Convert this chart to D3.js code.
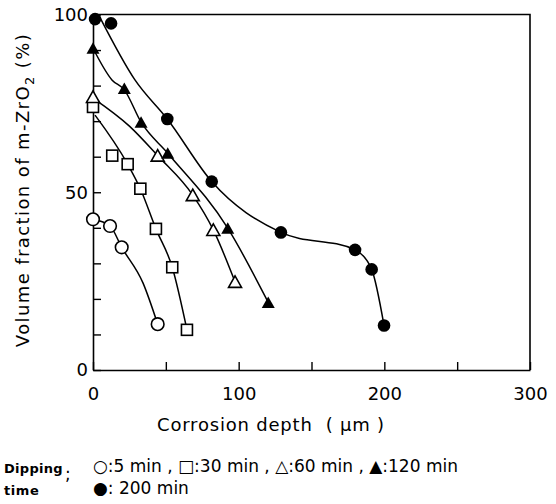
<!DOCTYPE html>
<html>
<head>
<meta charset="utf-8">
<script src="https://cdn.jsdelivr.net/npm/d3@7"></script>
<style>
  body { margin: 0; background: #fff; }
  svg text { font-family: "DejaVu Sans", sans-serif; fill: #000; }
</style>
</head>
<body>
<svg id="chart" width="556" height="504"></svg>
<script>
// Measured points, corrosion depth (um) vs volume fraction of m-ZrO2 (%)
const pts5 = [[0, 42.4], [11.7, 40.5], [19.7, 34.5], [44.4, 12.9]];
const pts30 = [[0, 74], [13.2, 60.3], [23.8, 57.9], [32.5, 51], [43.2, 39.7], [54.4, 28.9], [64.5, 11.3]];
const pts60 = [[0, 76.8], [44.4, 60.3], [68.5, 49.2], [82.6, 39.4], [97.5, 24.8]];
const pts120 = [[0, 90.5], [21.5, 79.2], [33, 69.7], [51.3, 61], [92.5, 39.9], [120.3, 19]];
const pts200 = [[1.4, 98.7], [12.4, 97.5], [51, 70.6], [81.5, 53], [129, 38.7], [179.9, 33.8], [191.3, 28.3], [199.8, 12.5]];

// Hand-drawn fit curves
const fit5 = [[0, 42.4], [11.7, 40.5], [19.7, 34.5], [34.3, 24.5], [44.4, 12.9]];
const fit30 = [[1.4, 71.7], [23.8, 57.9], [32.5, 51], [43.2, 39.7], [54.4, 28.9], [64.5, 11.3]];
const fit60 = [[0, 76.5], [25, 68.6], [44.4, 60.3], [68.5, 49.2], [82.6, 39.4], [97.5, 24.8]];
const fit120 = [[0, 90.5], [13, 81.6], [21.5, 78.8], [33, 69.7], [51.3, 61], [92.5, 39.9], [120.3, 19]];
const fit200 = [[5, 99], [28.8, 81.6], [51, 70.6], [81.5, 53], [129, 38.7], [179.9, 33.8], [191.3, 28.3], [199.8, 12.5]];

const xTicks = [0, 50, 100, 150, 200, 250, 300];
const xLabels = [0, 100, 200, 300];
const yTicks = [0, 10, 20, 30, 40, 50, 60, 70, 80, 90, 100];
const yLabels = [0, 50, 100];

const svg = d3.select("#chart");
const x = d3.scaleLinear().domain([0, 300]).range([93, 530]);
const y = d3.scaleLinear().domain([0, 100]).range([370, 14.5]);

// Frame: top and right edges
svg.append("path")
    .attr("d", `M${x(0)},${y(100)}H${x(300)}V${y(0)}`)
    .attr("fill", "none")
    .attr("stroke", "#000")
    .attr("stroke-width", 1.6);

// Bottom axis, ticks pointing inward
const xAxis = svg.append("g")
    .attr("transform", `translate(0,${y(0)})`)
    .call(d3.axisBottom(x).tickValues(xTicks).tickSize(-8).tickPadding(17).tickSizeOuter(0)
        .tickFormat(d => xLabels.includes(d) ? d : ""));

// Left axis
const yAxis = svg.append("g")
    .attr("transform", `translate(${x(0)},0)`)
    .call(d3.axisLeft(y).tickValues(yTicks).tickSize(-8).tickPadding(5).tickSizeOuter(0)
        .tickFormat(d => yLabels.includes(d) ? d : ""));

[xAxis, yAxis].forEach(g => {
    g.select(".domain").attr("stroke-width", 1.6);
    g.selectAll(".tick line").attr("stroke-width", 1.4);
    g.selectAll("text")
        .attr("font-size", "18px")
        .attr("font-family", "DejaVu Sans, sans-serif");
});

// Fit curves
const line = d3.line()
    .x(d => x(d[0]))
    .y(d => y(d[1]))
    .curve(d3.curveMonotoneX);

[fit5, fit30, fit60, fit120, fit200].forEach(f => {
    svg.append("path")
        .attr("d", line(f))
        .attr("fill", "none")
        .attr("stroke", "#000")
        .attr("stroke-width", 1.5);
});

// Markers
function tri(cx, cy) {
    return `M${cx},${cy - 6}L${cx + 6.5},${cy + 5.5}L${cx - 6.5},${cy + 5.5}Z`;
}

svg.selectAll(".c5").data(pts5).enter().append("circle")
    .attr("cx", d => x(d[0])).attr("cy", d => y(d[1])).attr("r", 6.3)
    .attr("fill", "#fff").attr("stroke", "#000").attr("stroke-width", 1.6);

svg.selectAll(".s30").data(pts30).enter().append("rect")
    .attr("x", d => x(d[0]) - 5.5).attr("y", d => y(d[1]) - 5.5)
    .attr("width", 11).attr("height", 11)
    .attr("fill", "#fff").attr("stroke", "#000").attr("stroke-width", 1.6);

svg.selectAll(".t60").data(pts60).enter().append("path")
    .attr("d", d => tri(x(d[0]), y(d[1])))
    .attr("fill", "#fff").attr("stroke", "#000").attr("stroke-width", 1.6);

svg.selectAll(".t120").data(pts120).enter().append("path")
    .attr("d", d => tri(x(d[0]), y(d[1])))
    .attr("fill", "#000");

svg.selectAll(".c200").data(pts200).enter().append("circle")
    .attr("cx", d => x(d[0])).attr("cy", d => y(d[1])).attr("r", 6.3)
    .attr("fill", "#000");

// Axis titles
svg.append("text")
    .attr("x", 271)
    .attr("y", 431)
    .attr("text-anchor", "middle")
    .attr("font-size", "18px")
    .attr("letter-spacing", "0.8px")
    .style("white-space", "pre")
    .text("Corrosion depth  ( µm )");

const yt = svg.append("text")
    .attr("transform", "translate(29,190) rotate(-90)")
    .attr("text-anchor", "middle")
    .attr("font-size", "18px")
    .attr("letter-spacing", "1.4px");
yt.append("tspan").text("Volume fraction of m-ZrO");
yt.append("tspan").attr("font-size", "13px").attr("dy", 5).text("2");
yt.append("tspan").attr("dy", -5).text(" (%)");

// Legend
svg.append("text")
    .attr("x", 4).attr("y", 473)
    .attr("font-family", "DejaVu Sans Mono, monospace")
    .attr("font-weight", "bold")
    .attr("font-size", "13px")
    .attr("letter-spacing", "0.3px")
    .text("Dipping");
svg.append("text")
    .attr("x", 4).attr("y", 495)
    .attr("font-family", "DejaVu Sans Mono, monospace")
    .attr("font-weight", "bold")
    .attr("font-size", "13px")
    .attr("letter-spacing", "0.6px")
    .text("time");
svg.append("text")
    .attr("x", 65).attr("y", 480)
    .attr("font-size", "17px")
    .text(";");

svg.append("text")
    .attr("x", 93).attr("y", 472)
    .attr("font-size", "17px")
    .style("white-space", "pre")
    .text("○:5 min , □:30 min , △:60 min , ▲:120 min");
svg.append("text")
    .attr("x", 93).attr("y", 494)
    .attr("font-size", "17px")
    .style("white-space", "pre")
    .text("●: 200 min");
</script>
</body>
</html>
